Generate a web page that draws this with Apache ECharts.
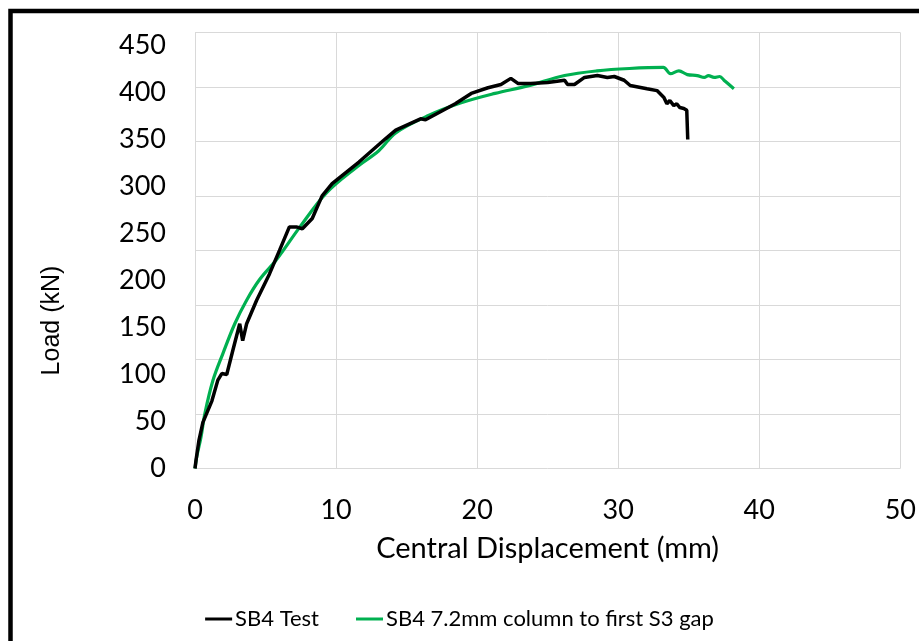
<!DOCTYPE html>
<html>
<head>
<meta charset="utf-8">
<script src="https://cdn.jsdelivr.net/npm/echarts@6/dist/echarts.min.js"></script>
<style>html,body{margin:0;padding:0;background:#fff;}#c{width:919px;height:641px;}</style>
</head>
<body>
<div id="c"></div>
<script>
// Central displacement (mm) and load (kN)
const testX = [0, 0.07, 0.28, 0.56, 1.20, 1.62, 1.90, 2.25, 2.68, 3.17, 3.38, 3.66, 4.37, 5.28, 5.99, 6.69, 7.18, 7.61, 8.31, 9.01, 9.72, 11.62, 13.52, 14.23, 15.99, 16.34, 18.45, 19.58, 20.77, 21.69, 22.39, 22.89, 23.80, 25.0, 26.2, 26.41, 26.90, 27.61, 28.52, 29.23, 29.72, 30.42, 30.85, 32.04, 32.75, 33.24, 33.45, 33.66, 33.94, 34.15, 34.37, 34.65, 34.86, 34.93];
const testY = [0, 8.5, 30, 49, 72, 94, 101, 100, 125.5, 154, 136, 154, 179, 207, 232, 257, 257, 255, 266, 290, 303, 326, 351, 360, 372, 371, 388, 399, 405, 408.5, 415, 409.6, 409.6, 410.6, 413, 408.5, 408.5, 416, 418, 416, 417, 413, 407.4, 404, 402, 394.7, 388, 391.5, 386, 388, 384, 383, 381, 350];
const modelX = [0, 0.14, 0.42, 0.70, 1.27, 1.97, 2.82, 3.66, 4.58, 5.77, 7.39, 9.30, 11.41, 13.03, 14.23, 16.55, 18.87, 21.27, 23.59, 26.2, 28.5, 30.8, 33.2, 33.7, 34.3, 34.9, 35.6, 36.1, 36.4, 36.8, 37.2, 37.5, 38.2];
const modelY = [0, 13.8, 33, 58.5, 93.6, 122, 154, 179, 201, 222, 256, 293, 320, 338, 357, 375.5, 389, 399, 407, 418, 423, 425.5, 426.6, 420, 423, 419, 418, 416, 418, 416, 417, 413, 404];
const seriesNames = ['SB4 Test', 'SB4 7.2mm column to first S3 gap'];
const xTicks = [0, 10, 20, 30, 40, 50];
const yTicks = [0, 50, 100, 150, 200, 250, 300, 350, 400, 450];

const pair = (xs, ys) => xs.map((x, i) => [x, ys[i]]);
const chart = echarts.init(document.getElementById('c'), null, {renderer: 'canvas'});
const tickFont = 'Lato';
chart.setOption({
  animation: false,
  backgroundColor: '#fff',
  grid: {left: 195, right: 14, top: 32.5, bottom: 172.5, containLabel: false},
  graphic: [{
    type: 'rect', silent: true, z: 100,
    shape: {x: 10.5, y: 11, width: 1400, height: 1400},
    style: {fill: 'none', stroke: '#000', lineWidth: 4.5}
  }],
  legend: {
    bottom: 6, left: 'center',
    itemWidth: 27, itemHeight: 3, itemGap: 37,
    icon: 'rect',
    textStyle: {fontFamily: tickFont, fontSize: 22, color: '#000', padding: [0, 0, 0, -2]},
    data: seriesNames
  },
  xAxis: {
    type: 'value', min: xTicks[0], max: xTicks[xTicks.length - 1], interval: 10,
    name: 'Central Displacement (mm)', nameLocation: 'middle', nameGap: 66,
    nameTextStyle: {fontFamily: tickFont, fontSize: 29, color: '#000'},
    axisLine: {show: false}, axisTick: {show: false},
    axisLabel: {fontFamily: tickFont, fontSize: 27, color: '#000', margin: 28},
    splitLine: {show: true, lineStyle: {color: '#d9d9d9', width: 1}}
  },
  yAxis: [{
    type: 'value', min: 0, max: 400, interval: 50,
    axisLine: {show: false}, axisTick: {show: false}, axisLabel: {show: false},
    splitLine: {show: true, lineStyle: {color: '#d9d9d9', width: 1}}
  }, {
    type: 'value', position: 'left', min: 0, max: 463.8, interval: 50,
    name: 'Load (kN)', nameLocation: 'middle', nameGap: 130, nameRotate: 90,
    nameTextStyle: {fontFamily: 'Liberation Sans', fontSize: 25, color: '#000', padding: [0, 140, 0, 0]},
    axisLine: {show: false}, axisTick: {show: false},
    axisLabel: {fontFamily: tickFont, fontSize: 27, color: '#000', margin: 29,
      formatter: v => (yTicks.indexOf(v) >= 0 ? String(v) : '')},
    splitLine: {show: false}
  }],
  series: [{
    name: seriesNames[0], type: 'line', yAxisIndex: 1, data: pair(testX, testY),
    symbol: 'none', color: '#000', lineStyle: {color: '#000', width: 3.5}, z: 3
  }, {
    name: seriesNames[1], type: 'line', yAxisIndex: 1, data: pair(modelX, modelY),
    symbol: 'none', smooth: 0.35, color: '#00B050', lineStyle: {color: '#00B050', width: 3.2}, z: 2
  }]
});
</script>
</body>
</html>
